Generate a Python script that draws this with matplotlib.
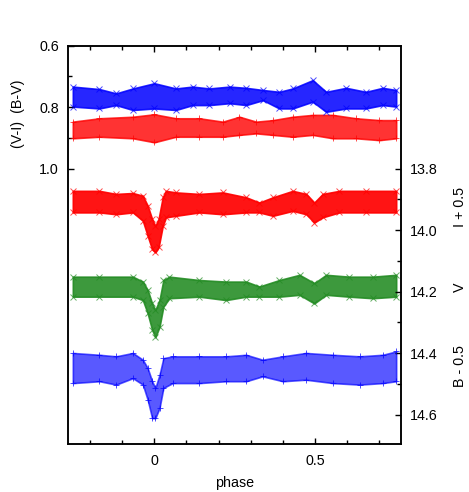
import numpy as np
import matplotlib
matplotlib.use("Agg")
import matplotlib.pyplot as plt
from matplotlib.ticker import FixedLocator

plt.rcParams['font.family'] = ['Liberation Sans', 'DejaVu Sans']

# scatter band envelopes (upper / lower edge of the points)
# colour indices, left axis
bv_phase = [-0.254, -0.171, -0.119, -0.067, 0.0, 0.067, 0.119, 0.171, 0.234, 0.286,
            0.338, 0.389, 0.431, 0.493, 0.535, 0.597, 0.659, 0.711, 0.753]
bv_top = [0.733, 0.741, 0.755, 0.739, 0.722, 0.739, 0.733, 0.739, 0.733, 0.737,
          0.744, 0.750, 0.739, 0.712, 0.750, 0.737, 0.750, 0.737, 0.744]
bv_bot = [0.798, 0.804, 0.793, 0.809, 0.804, 0.809, 0.793, 0.793, 0.787, 0.793,
          0.777, 0.804, 0.804, 0.782, 0.815, 0.804, 0.804, 0.793, 0.798]

vi_phase = [-0.254, -0.171, -0.067, 0.0, 0.067, 0.140, 0.213, 0.265, 0.317, 0.369,
            0.431, 0.493, 0.556, 0.628, 0.701, 0.753]
vi_top = [0.847, 0.836, 0.831, 0.823, 0.836, 0.836, 0.847, 0.831, 0.847, 0.842,
          0.831, 0.825, 0.825, 0.836, 0.842, 0.842]
vi_bot = [0.901, 0.896, 0.901, 0.914, 0.896, 0.896, 0.896, 0.890, 0.885, 0.890,
          0.896, 0.890, 0.901, 0.901, 0.907, 0.901]

# magnitudes, right axis
i_phase = [-0.254, -0.171, -0.119, -0.067, -0.036, -0.021, -0.007, 0.003, 0.013, 0.026,
           0.036, 0.067, 0.140, 0.213, 0.286, 0.327, 0.369, 0.431, 0.473, 0.498,
           0.524, 0.576, 0.659, 0.753]
i_top = [13.872, 13.872, 13.882, 13.879, 13.888, 13.920, 13.964, 13.986, 13.964, 13.893,
         13.872, 13.877, 13.882, 13.877, 13.893, 13.910, 13.893, 13.872, 13.882, 13.910,
         13.882, 13.872, 13.872, 13.872]
i_bot = [13.942, 13.942, 13.948, 13.942, 13.969, 14.018, 14.062, 14.072, 14.056, 13.986,
         13.958, 13.953, 13.942, 13.948, 13.942, 13.942, 13.953, 13.937, 13.948, 13.975,
         13.958, 13.942, 13.942, 13.942]

v_phase = [-0.254, -0.171, -0.067, -0.036, -0.021, -0.007, 0.003, 0.016, 0.028, 0.047,
           0.140, 0.223, 0.286, 0.327, 0.389, 0.452, 0.498, 0.535, 0.607, 0.680, 0.753]
v_top = [14.151, 14.151, 14.151, 14.167, 14.194, 14.238, 14.259, 14.227, 14.162, 14.151,
         14.162, 14.167, 14.167, 14.183, 14.162, 14.145, 14.172, 14.145, 14.151, 14.151, 14.145]
v_bot = [14.216, 14.216, 14.216, 14.227, 14.270, 14.324, 14.348, 14.314, 14.248, 14.221,
         14.216, 14.227, 14.216, 14.216, 14.216, 14.210, 14.238, 14.210, 14.216, 14.221, 14.216]

b_phase = [-0.254, -0.171, -0.119, -0.067, -0.036, -0.021, -0.007, 0.003, 0.016, 0.028,
           0.057, 0.140, 0.223, 0.286, 0.337, 0.400, 0.472, 0.556, 0.639, 0.711, 0.753]
b_top = [14.399, 14.405, 14.410, 14.399, 14.421, 14.448, 14.491, 14.513, 14.470, 14.416,
         14.410, 14.410, 14.410, 14.405, 14.421, 14.410, 14.399, 14.405, 14.410, 14.405, 14.394]
b_bot = [14.497, 14.491, 14.502, 14.481, 14.502, 14.551, 14.611, 14.611, 14.578, 14.513,
         14.497, 14.497, 14.491, 14.491, 14.475, 14.491, 14.486, 14.497, 14.502, 14.497, 14.491]

left_ticks = [0.6, 0.8, 1.0]
left_minor = [0.7, 0.9]
right_ticks = [13.8, 14.0, 14.2, 14.4, 14.6]
right_minor = [13.9, 14.1, 14.3, 14.5]
x_ticks = [0, 0.5]
x_minor = [-0.2, -0.1, 0.1, 0.2, 0.3, 0.4, 0.6, 0.7]

fig = plt.figure(figsize=(4.69, 4.92), dpi=100)
ax = fig.add_axes([0.145, 0.0976, 0.710, 0.8095])
ax2 = ax.twinx()


def band(a, ph, top, bot, color, marker, alpha):
    a.fill_between(ph, top, bot, color=color, alpha=alpha, lw=1.2, edgecolor=color)
    a.plot(ph, top, ls='none', marker=marker, ms=4.2, mew=0.7, color=color, alpha=0.7)
    a.plot(ph, bot, ls='none', marker=marker, ms=4.2, mew=0.7, color=color, alpha=0.7)


band(ax, bv_phase, bv_top, bv_bot, 'blue', 'x', 0.85)
band(ax, vi_phase, vi_top, vi_bot, 'red', '+', 0.8)
band(ax2, i_phase, i_top, i_bot, 'red', 'x', 0.92)
band(ax2, v_phase, v_top, v_bot, 'forestgreen', 'x', 0.88)
band(ax2, b_phase, b_top, b_bot, 'blue', '+', 0.65)

ax.set_xlim(-0.269, 0.768)
ax.set_ylim(1.895, 0.6)
ax2.set_ylim(14.695, 13.40)

ax.xaxis.set_major_locator(FixedLocator(x_ticks))
ax.xaxis.set_minor_locator(FixedLocator(x_minor))
ax.set_xticklabels(['0', '0.5'])
ax.yaxis.set_major_locator(FixedLocator(left_ticks))
ax.yaxis.set_minor_locator(FixedLocator(left_minor))
ax.set_yticklabels(['0.6', '0.8', '1.0'])
ax2.yaxis.set_major_locator(FixedLocator(right_ticks))
ax2.yaxis.set_minor_locator(FixedLocator(right_minor))
ax2.set_yticklabels(['13.8', '14.0', '14.2', '14.4', '14.6'])

fs = 10.3
ax.tick_params(axis='x', which='both', direction='in', top=True, labelsize=fs, pad=7)
ax.tick_params(axis='y', which='both', direction='in', right=False, labelsize=fs, pad=6.5)
ax2.tick_params(axis='y', which='both', direction='in', labelsize=fs, pad=6.5)
for a in (ax, ax2):
    a.tick_params(which='major', length=4.5, width=1)
    a.tick_params(which='minor', length=2.6, width=1)
for s in ax.spines.values():
    s.set_linewidth(1.1)
for s in ax2.spines.values():
    s.set_linewidth(1.1)

ax.set_xlabel('phase', fontsize=fs, labelpad=6)

fig.text(18 / 469, 1 - 114 / 492, '(V-I)  (B-V)', rotation=90, fontsize=fs,
         ha='center', va='center')
fig.text(460 / 469, 1 - 207 / 492, 'I + 0.5', rotation=90, fontsize=fs, ha='center', va='center')
fig.text(460 / 469, 1 - 287 / 492, 'V', rotation=90, fontsize=fs, ha='center', va='center')
fig.text(460 / 469, 1 - 366 / 492, 'B - 0.5', rotation=90, fontsize=fs, ha='center', va='center')

fig.savefig('out.png', dpi=100)
